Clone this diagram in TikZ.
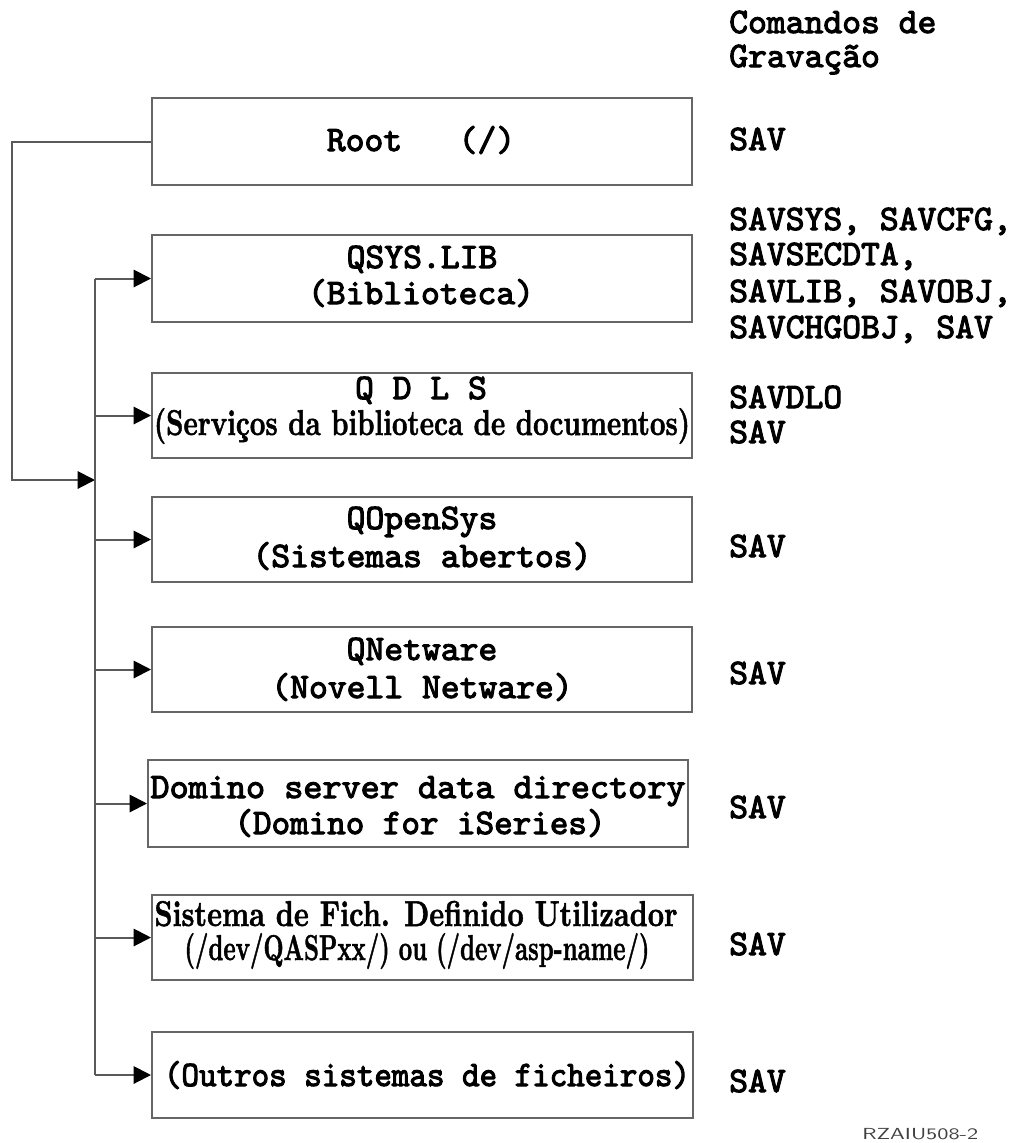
\documentclass[tikz,border=0pt]{standalone}
\usepackage{graphicx}
\usepackage{fontspec}
\newfontfamily\monob{lmmono10-regular.otf}[FakeBold=3]
\newfontfamily\romb{lmroman10-bold.otf}[FakeBold=1.5]
\usetikzlibrary{arrows.meta}
\newlength\pxu
\setlength\pxu{0.75pt}
\newcommand\fitw[2]{\resizebox{#1\pxu}{\height}{#2}}
\begin{document}
\begin{tikzpicture}[x=0.75pt,y=-0.75pt,
  box/.style={draw=black!60, line width=1.5pt, rectangle, inner sep=0pt, minimum width=540*0.75pt},
  conn/.style={draw=black!65, line width=1.5pt},
  arr/.style={conn, -{Triangle[length=13pt,width=13pt,color=black]}},
  lbl/.style={inner sep=0pt, anchor=base, font=\fontsize{26.9}{30}\selectfont\monob},
  cmd/.style={inner sep=0pt, anchor=base west, font=\fontsize{26.9}{30}\selectfont\monob},
  cnd/.style={inner sep=0pt, anchor=base, font=\fontsize{26.9}{30}\selectfont\romb},
]
\useasboundingbox (0,0) rectangle (1014,1143);

% boxes
\node[box, minimum height=87*0.75pt] (root)   at (422,141.5) {};
\node[box, minimum height=87*0.75pt] (qsys)   at (422,278.5) {};
\node[box, minimum height=85*0.75pt] (qdls)   at (422,415.5) {};
\node[box, minimum height=85*0.75pt] (qopen)  at (422,539.5) {};
\node[box, minimum height=85*0.75pt] (qnet)   at (422,669.5) {};
\node[box, minimum height=87*0.75pt] (domino) at (418,803.5) {};
\node[box, minimum height=85*0.75pt, minimum width=541*0.75pt] (sist)   at (422.5,937.5) {};
\node[box, minimum height=86*0.75pt, minimum width=541*0.75pt] (outros) at (422.5,1075) {};

% box texts
\node[lbl] (troot) at (421,151) {Root~~~(/)};
\node[lbl] (tqsys1) at (422,268) {QSYS.LIB};
\node[lbl] (tqsys2) at (421,304) {(Biblioteca)};
\node[lbl] (tqdls1) at (421,399) {Q D L S};
\node[cnd] (tqdls2) at (422,435) {\fitw{536}{(Serviços da biblioteca de documentos)}};
\node[lbl] (tqopen1) at (422,529) {QOpenSys};
\node[lbl] (tqopen2) at (422,567) {(Sistemas abertos)};
\node[lbl] (tqnet1) at (422,660) {QNetware};
\node[lbl] (tqnet2) at (422,698) {(Novell Netware)};
\node[lbl] (tdom1) at (418,798) {\fitw{535}{Domino server data directory}};
\node[lbl] (tdom2) at (420,834) {\fitw{371}{(Domino for iSeries)}};
\node[cnd] (tsist1) at (416,926) {\fitw{523}{Sistema de Fich. Definido Utilizador}};
\node[cnd] (tsist2) at (417,960) {\fitw{465}{(/dev/QASPxx/) ou (/dev/asp-name/)}};
\node[lbl] (toutros) at (427,1086) {\fitw{526}{(Outros sistemas de ficheiros)}};

% right column
\node[cmd] (h1) at (729,33) {Comandos de};
\node[cmd] (h2) at (729,67) {Gravação};
\node[cmd] (c1) at (729,150) {SAV};
\node[cmd] (c2a) at (729,230) {SAVSYS, SAVCFG,};
\node[cmd] (c2b) at (729,265) {SAVSECDTA,};
\node[cmd] (c2c) at (729,302) {SAVLIB, SAVOBJ,};
\node[cmd] (c2d) at (729,338) {SAVCHGOBJ, SAV};
\node[cmd] (c3a) at (729,408) {SAVDLO};
\node[cmd] (c3b) at (729,443) {SAV};
\node[cmd] (c4) at (729,557) {SAV};
\node[cmd] (c5) at (729,684) {SAV};
\node[cmd] (c6) at (729,818) {SAV};
\node[cmd] (c7) at (729,955) {SAV};
\node[cmd] (c8) at (729,1092) {SAV};

\node[inner sep=0pt, anchor=base west, font=\fontsize{12}{14}\selectfont\sffamily, text=black!75] (fig) at (862,1139) {\fitw{116}{RZAIU508-2}};

% connectors
\coordinate (lft) at (12,0);
\coordinate (bx) at (95,0);
\coordinate (j) at (95,480);
\draw[arr] (root.west) -| (lft |- j) -- (j);
\draw[conn] (qsys.west -| bx) -- (outros.west -| bx);
\foreach \b in {qsys,qdls,qopen,qnet,domino,sist,outros}
  \draw[arr] (\b.west -| bx) -- (\b.west);
\end{tikzpicture}
\end{document}
